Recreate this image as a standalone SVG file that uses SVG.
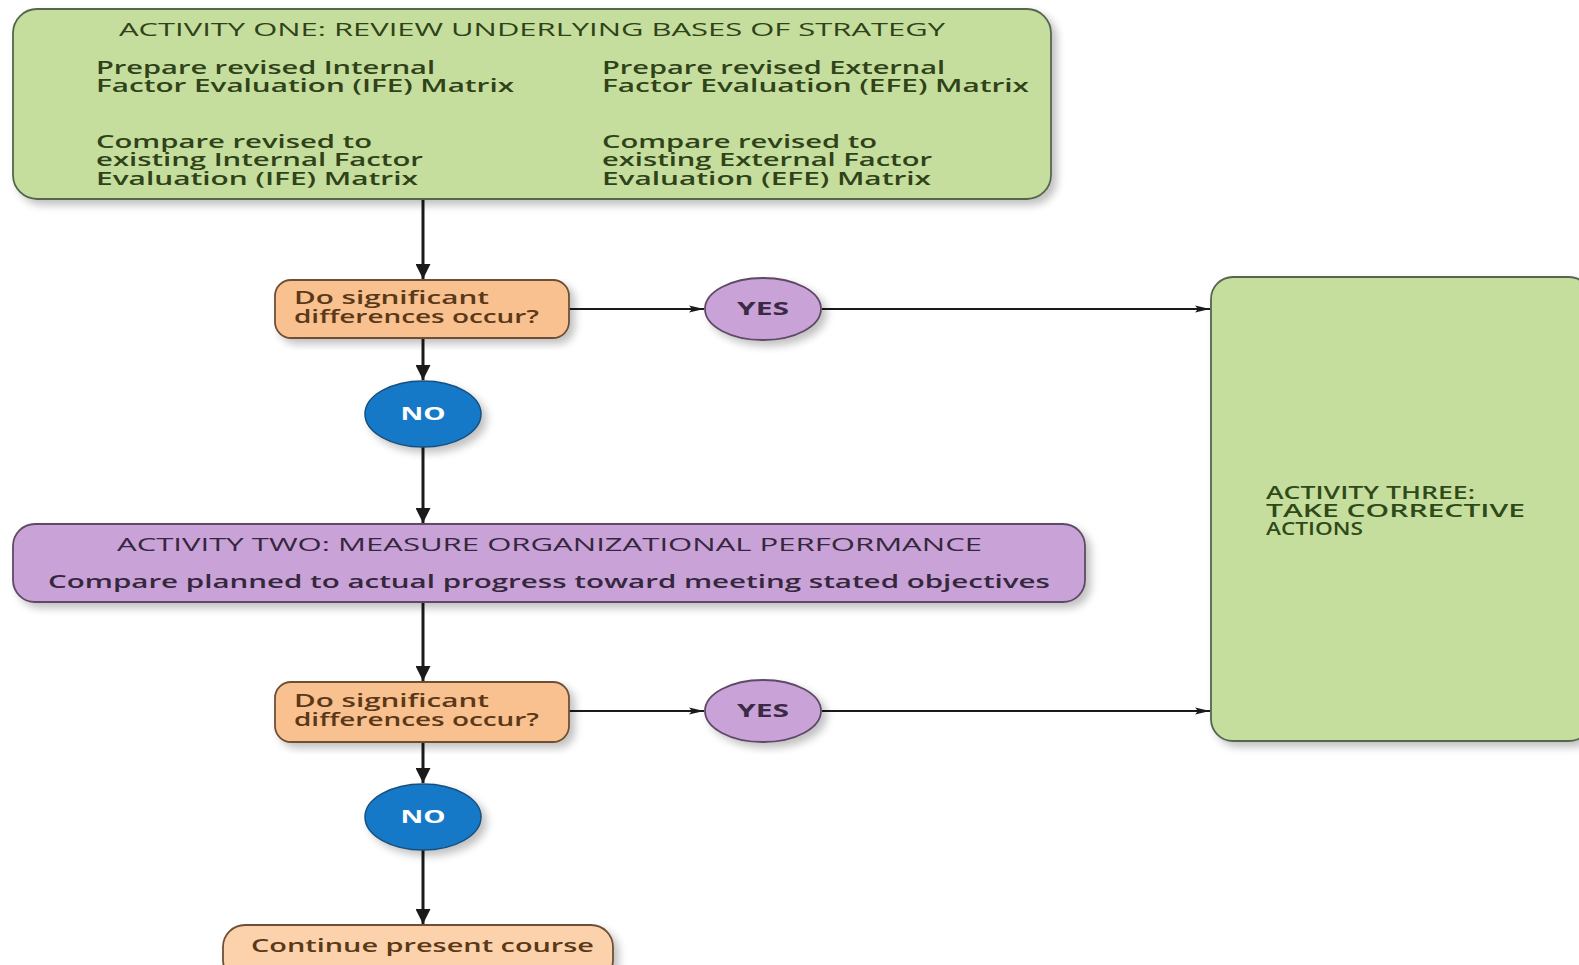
<svg xmlns="http://www.w3.org/2000/svg" width="1579" height="965" viewBox="0 0 1579 965">
<style>
text{font-family:"Open Sans","DejaVu Sans",sans-serif;}
.green{fill:#c6de9d;stroke:#556650;stroke-width:1.8;}
.orange{fill:#f8c18f;stroke:#6e5035;stroke-width:1.8;}
.purple{fill:#c9a3d7;stroke:#5e4a66;stroke-width:1.8;}
.blue{fill:#1979c7;stroke:#17507e;stroke-width:1.5;}
.tg{fill:#2f4219;font-size:18.5px;font-weight:600;}
.tp{fill:#35273d;font-size:18.5px;font-weight:600;}
.to{fill:#5a3818;font-size:18.5px;font-weight:600;}
.tw{fill:#ffffff;font-size:18px;font-weight:bold;}
.ty{fill:#3a2a44;font-size:18px;font-weight:bold;}
.tb{fill:#2f4a19;font-size:18.5px;font-weight:600;}
.tt{font-weight:500;}
.v{stroke:#1a1a1a;stroke-width:3;fill:none;}
.h{stroke:#1a1a1a;stroke-width:1.8;fill:none;}
</style>
<defs>
<marker id="ah" viewBox="0 0 10 10" refX="10" refY="5" markerWidth="5" markerHeight="5" orient="auto" markerUnits="strokeWidth">
<path d="M0,0 L10,5 L0,10 z" fill="#1a1a1a"/>
</marker>
<marker id="ahs" viewBox="0 0 15 8" refX="15" refY="4" markerWidth="15" markerHeight="8" orient="auto" markerUnits="userSpaceOnUse">
<path d="M0,0.5 L15,4 L0,7.5 L3,4 z" fill="#1a1a1a"/>
</marker>
<filter id="sh" x="-10%" y="-10%" width="125%" height="130%">
<feGaussianBlur in="SourceAlpha" stdDeviation="4"/>
<feOffset dx="5" dy="5" result="b"/>
<feComponentTransfer><feFuncA type="linear" slope="0.25"/></feComponentTransfer>
<feMerge><feMergeNode/><feMergeNode in="SourceGraphic"/></feMerge>
</filter>
</defs>
<rect width="1579" height="965" fill="#ffffff"/>

<g id="connectors">
<line class="v" x1="423" y1="200" x2="423" y2="279" marker-end="url(#ah)"/>
<line class="v" x1="423" y1="339" x2="423" y2="380" marker-end="url(#ah)"/>
<line class="v" x1="423" y1="447" x2="423" y2="523" marker-end="url(#ah)"/>
<line class="v" x1="423" y1="603" x2="423" y2="681" marker-end="url(#ah)"/>
<line class="v" x1="423" y1="743" x2="423" y2="783" marker-end="url(#ah)"/>
<line class="v" x1="423" y1="850" x2="423" y2="924" marker-end="url(#ah)"/>
<line class="h" x1="569" y1="309" x2="704" y2="309" marker-end="url(#ahs)"/>
<line class="h" x1="822" y1="309" x2="1210" y2="309" marker-end="url(#ahs)"/>
<line class="h" x1="569" y1="711" x2="704" y2="711" marker-end="url(#ahs)"/>
<line class="h" x1="822" y1="711" x2="1210" y2="711" marker-end="url(#ahs)"/>
</g>

<g id="activity-one">
<rect class="green" x="13" y="9" width="1038" height="190" rx="24" filter="url(#sh)"/>
<text class="tg tt" x="119" y="36" textLength="826" lengthAdjust="spacingAndGlyphs">ACTIVITY ONE: REVIEW UNDERLYING BASES OF STRATEGY</text>
<text class="tg" x="96" y="74" textLength="339" lengthAdjust="spacingAndGlyphs">Prepare revised Internal</text>
<text class="tg" x="96" y="92" textLength="418" lengthAdjust="spacingAndGlyphs">Factor Evaluation (IFE) Matrix</text>
<text class="tg" x="96" y="148" textLength="276" lengthAdjust="spacingAndGlyphs">Compare revised to</text>
<text class="tg" x="96" y="166" textLength="327" lengthAdjust="spacingAndGlyphs">existing Internal Factor</text>
<text class="tg" x="96" y="185" textLength="322" lengthAdjust="spacingAndGlyphs">Evaluation (IFE) Matrix</text>
<text class="tg" x="602" y="74" textLength="343" lengthAdjust="spacingAndGlyphs">Prepare revised External</text>
<text class="tg" x="602" y="92" textLength="427" lengthAdjust="spacingAndGlyphs">Factor Evaluation (EFE) Matrix</text>
<text class="tg" x="602" y="148" textLength="275" lengthAdjust="spacingAndGlyphs">Compare revised to</text>
<text class="tg" x="602" y="166" textLength="330" lengthAdjust="spacingAndGlyphs">existing External Factor</text>
<text class="tg" x="602" y="185" textLength="329" lengthAdjust="spacingAndGlyphs">Evaluation (EFE) Matrix</text>
</g>

<g id="decision-one">
<rect class="orange" x="275" y="280" width="294" height="58" rx="16" filter="url(#sh)"/>
<text class="to" x="294" y="304" textLength="195" lengthAdjust="spacingAndGlyphs">Do significant</text>
<text class="to" x="294" y="323" textLength="245" lengthAdjust="spacingAndGlyphs">differences occur?</text>
</g>

<g id="yes-one">
<ellipse class="purple" cx="763" cy="309" rx="58" ry="31" filter="url(#sh)"/>
<text class="ty" x="763" y="315" text-anchor="middle" textLength="52" lengthAdjust="spacingAndGlyphs">YES</text>
</g>

<g id="no-one">
<ellipse class="blue" cx="423" cy="414" rx="58" ry="33" filter="url(#sh)"/>
<text class="tw" x="423" y="420" text-anchor="middle" textLength="45" lengthAdjust="spacingAndGlyphs">NO</text>
</g>

<g id="activity-two">
<rect class="purple" x="13" y="524" width="1072" height="78" rx="22" filter="url(#sh)"/>
<text class="tp tt" x="117" y="551" textLength="865" lengthAdjust="spacingAndGlyphs">ACTIVITY TWO: MEASURE ORGANIZATIONAL PERFORMANCE</text>
<text class="tp" x="48" y="588" textLength="1002" lengthAdjust="spacingAndGlyphs">Compare planned to actual progress toward meeting stated objectives</text>
</g>

<g id="decision-two">
<rect class="orange" x="275" y="682" width="294" height="60" rx="16" filter="url(#sh)"/>
<text class="to" x="294" y="707" textLength="195" lengthAdjust="spacingAndGlyphs">Do significant</text>
<text class="to" x="294" y="726" textLength="245" lengthAdjust="spacingAndGlyphs">differences occur?</text>
</g>

<g id="yes-two">
<ellipse class="purple" cx="763" cy="711" rx="58" ry="31" filter="url(#sh)"/>
<text class="ty" x="763" y="717" text-anchor="middle" textLength="52" lengthAdjust="spacingAndGlyphs">YES</text>
</g>

<g id="no-two">
<ellipse class="blue" cx="423" cy="817" rx="58" ry="33" filter="url(#sh)"/>
<text class="tw" x="423" y="823" text-anchor="middle" textLength="45" lengthAdjust="spacingAndGlyphs">NO</text>
</g>

<g id="continue">
<rect class="orange" x="223" y="925" width="390" height="58" rx="22" filter="url(#sh)" style="fill:#fbd2ab"/>
<text class="to" x="251" y="952" textLength="343" lengthAdjust="spacingAndGlyphs">Continue present course</text>
</g>

<g id="activity-three">
<rect class="green" x="1211" y="277" width="380" height="464" rx="22" filter="url(#sh)"/>
<text class="tb" x="1266" y="499" textLength="209" lengthAdjust="spacingAndGlyphs">ACTIVITY THREE:</text>
<text class="tb" x="1266" y="517" textLength="259" lengthAdjust="spacingAndGlyphs">TAKE CORRECTIVE</text>
<text class="tb" x="1266" y="535" textLength="97" lengthAdjust="spacingAndGlyphs">ACTIONS</text>
</g>
</svg>
